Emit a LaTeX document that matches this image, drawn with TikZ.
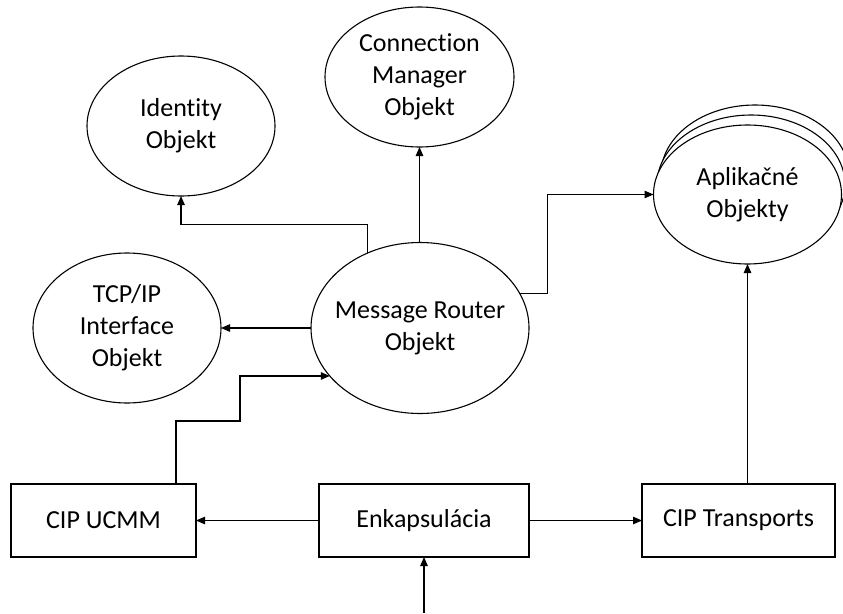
\documentclass[tikz,border=0pt]{standalone}
\usepackage{fontspec}
\setmainfont{Carlito}[Ligatures=NoCommon]
\usetikzlibrary{shapes.geometric,arrows.meta}
\begin{document}
\begin{tikzpicture}[x=1pt,y=-1pt,
  lbl/.style={font=\fontsize{26}{32}\selectfont, align=center, inner sep=0pt},
  obj/.style={ellipse, draw, line width=1.1pt, inner sep=0pt, outer sep=0pt, fill=white},
  blk/.style={rectangle, draw, line width=1.1pt, inner sep=0pt, outer sep=0pt, minimum height=73pt, lbl},
  link/.style={line width=1.1pt, -{Triangle[length=9pt,width=7.5pt]}}]
\useasboundingbox (0,0) rectangle (843,613);

% object ellipses (fixed size, text set on top)
\node[obj, minimum width=188pt, minimum height=140pt] (id) at (181,126) {};
\node[lbl] (idt) at (id) {Identity\\Objekt};
\node[obj, minimum width=189pt, minimum height=140pt] (cm) at (419.5,77) {};
\node[lbl] (cmt) at (cm) {Connection\\Manager\\Objekt};
\node[obj, minimum width=188pt, minimum height=150pt] (tcp) at (127,328) {};
\node[lbl] (tcpt) at (tcp) {TCP/IP\\Interface\\Objekt};
\node[obj, minimum width=218pt, minimum height=171pt] (mr) at (420,328) {};
\node[lbl] (mrt) at (mr) {Message Router\\Objekt};

% stacked application objects
\node[obj, minimum width=188pt, minimum height=139pt] (app3) at (755,174.5) {};
\node[obj, minimum width=188pt, minimum height=139pt] (app2) at (751,184.5) {};
\node[obj, minimum width=188pt, minimum height=139pt] (app) at (747.5,194.5) {};
\node[lbl] (appt) at (app) {Aplikačné\\Objekty};

% blocks
\node[blk, minimum width=185pt] (ucmm) at (103.5,520.5) {CIP UCMM};
\node[blk, minimum width=210pt] (enk) at (424,520.5) {Enkapsulácia};
\node[blk, minimum width=193pt] (trans) at (738.5,520.5) {CIP Transports};

\coordinate (in) at (424,613);

% connectors
\draw[link] (in) -- (enk.south);
\draw[link] (enk.west) -- (ucmm.east);
\draw[link] (enk.east) -- (trans.west);
\draw[link] (app.south |- trans.north) -- (app.south);
\draw[link] ([xshift=72.5pt]ucmm.north) |- ++(64,-63) |- (mr.208);
\draw[link] (mr.west) -- (tcp.east);
\draw[link] (mr.125) -- ++(0,-29) -| (id.south);
\draw[link] (cm.south |- mr.north) -- (cm.south);
\draw[link] (mr.19) -- ++(28,0) |- (app.west);
\end{tikzpicture}
\end{document}
